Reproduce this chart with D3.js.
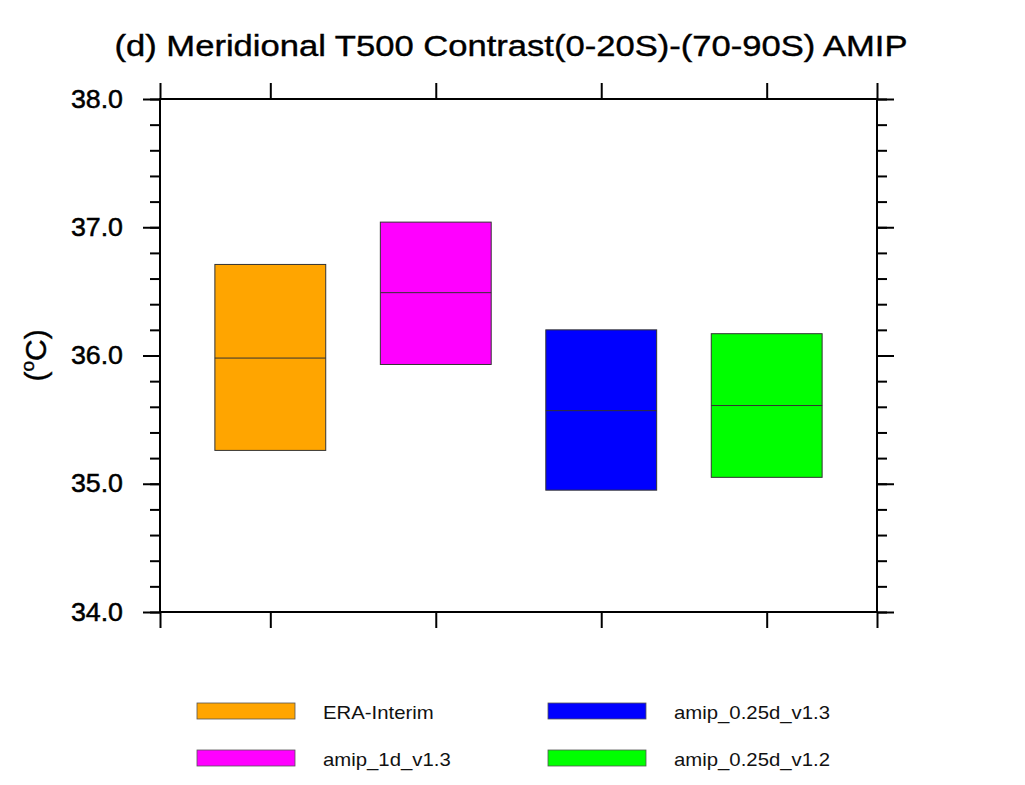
<!DOCTYPE html>
<html>
<head>
<meta charset="utf-8">
<script src="https://cdn.jsdelivr.net/npm/d3@7"></script>
<style>
  body { margin: 0; background: #fff; }
  svg { font-family: "Liberation Sans", Arial, Helvetica, sans-serif; }
</style>
</head>
<body>
<div id="chart"></div>
<script>
// data
var runs    = ["ERA-Interim", "amip_1d_v1.3", "amip_0.25d_v1.3", "amip_0.25d_v1.2"];
var colors  = ["#ffa500", "#ff00ff", "#0000ff", "#00ff00"];
var boxTop  = [36.71, 37.04, 36.20, 36.17];
var boxMid  = [35.98, 36.49, 35.57, 35.61];
var boxBot  = [35.26, 35.93, 34.95, 35.05];
var yMajor  = [34, 35, 36, 37, 38];

var width = 1025, height = 785;
var pLeft = 160, pRight = 877, pTop = 99, pBottom = 612;

var svg = d3.select("#chart").append("svg")
    .attr("width", width)
    .attr("height", height);

// scales
var x = d3.scaleLinear()
    .domain([1/3, 4 + 2/3])
    .range([pLeft, pRight]);

var y = d3.scaleLinear()
    .domain([34, 38])
    .range([pBottom, pTop]);

var boxW = 0.67;
var xTicks = [x.domain()[0], 1, 2, 3, 4, x.domain()[1]];
var yMinor = d3.range(34, 38.001, 0.2);

// text in the reference is a bit wider than Arial, stretch it
function stretch(sel, k) {
    sel.each(function () {
        var w = this.getComputedTextLength();
        d3.select(this).attr("textLength", w * k).attr("lengthAdjust", "spacingAndGlyphs");
    });
}

// boxes
var g = svg.append("g");
g.selectAll("rect.box")
    .data(runs)
    .enter()
    .append("rect")
    .attr("class", "box")
    .attr("x", function (d, i) { return x(i + 1 - boxW / 2) })
    .attr("width", function () { return x(boxW) - x(0) })
    .attr("y", function (d, i) { return y(boxTop[i]) })
    .attr("height", function (d, i) { return y(boxBot[i]) - y(boxTop[i]) })
    .attr("fill", function (d, i) { return colors[i] })
    .attr("stroke", "#333")
    .attr("stroke-width", 1);

g.selectAll("line.mid")
    .data(runs)
    .enter()
    .append("line")
    .attr("class", "mid")
    .attr("x1", function (d, i) { return x(i + 1 - boxW / 2) })
    .attr("x2", function (d, i) { return x(i + 1 + boxW / 2) })
    .attr("y1", function (d, i) { return y(boxMid[i]) })
    .attr("y2", function (d, i) { return y(boxMid[i]) })
    .attr("stroke", "#333")
    .attr("stroke-width", 1);

// axes: major and minor ticks pointing outward, like NCL
function styleAxis(sel) {
    sel.select(".domain").remove();
    sel.selectAll("line").attr("stroke", "#000").attr("stroke-width", 2);
}

svg.append("g")
    .attr("transform", "translate(" + pLeft + ",0)")
    .call(d3.axisLeft(y).tickValues(yMinor).tickSize(10).tickFormat(""))
    .call(styleAxis);
svg.append("g")
    .attr("transform", "translate(" + pLeft + ",0)")
    .call(d3.axisLeft(y).tickValues(yMajor).tickSize(17).tickPadding(20).tickFormat(d3.format(".1f")))
    .call(styleAxis)
    .selectAll("text")
    .attr("font-size", 25)
    .attr("fill", "#000")
    .attr("stroke", "#000")
    .attr("stroke-width", 0.5)
    .call(stretch, 1.07);

svg.append("g")
    .attr("transform", "translate(" + pRight + ",0)")
    .call(d3.axisRight(y).tickValues(yMinor).tickSize(10).tickFormat(""))
    .call(styleAxis);
svg.append("g")
    .attr("transform", "translate(" + pRight + ",0)")
    .call(d3.axisRight(y).tickValues(yMajor).tickSize(17).tickFormat(""))
    .call(styleAxis);

svg.append("g")
    .attr("transform", "translate(0," + pBottom + ")")
    .call(d3.axisBottom(x).tickValues(xTicks).tickSize(16).tickFormat(""))
    .call(styleAxis);
svg.append("g")
    .attr("transform", "translate(0," + pTop + ")")
    .call(d3.axisTop(x).tickValues(xTicks).tickSize(16).tickFormat(""))
    .call(styleAxis);

// frame
svg.append("rect")
    .attr("x", pLeft)
    .attr("y", pTop)
    .attr("width", pRight - pLeft)
    .attr("height", pBottom - pTop)
    .attr("fill", "none")
    .attr("stroke", "#000")
    .attr("stroke-width", 2);

// title
svg.append("text")
    .attr("x", 511)
    .attr("y", 56)
    .attr("text-anchor", "middle")
    .attr("font-size", 30)
    .attr("fill", "#000")
    .attr("stroke", "#000")
    .attr("stroke-width", 0.4)
    .attr("textLength", 793)
    .attr("lengthAdjust", "spacingAndGlyphs")
    .text("(d) Meridional T500 Contrast(0-20S)-(70-90S) AMIP");

// y label with superscript o
var yl = svg.append("text")
    .attr("transform", "translate(46," + ((pTop + pBottom) / 2) + ") rotate(-90)")
    .attr("text-anchor", "middle")
    .attr("font-size", 30)
    .attr("fill", "#000")
    .attr("stroke", "#000")
    .attr("stroke-width", 0.4);
yl.append("tspan").text("(");
yl.append("tspan").attr("font-size", 19).attr("dy", -12).text("o");
yl.append("tspan").attr("dy", 12).text("C)");

// legend
var legX = [197, 548], legY = [703, 750];
var lg = svg.selectAll("g.leg")
    .data(runs)
    .enter()
    .append("g")
    .attr("class", "leg")
    .attr("transform", function (d, i) {
        return "translate(" + legX[Math.floor(i / 2)] + "," + legY[i % 2] + ")";
    });
lg.append("rect")
    .attr("width", 98)
    .attr("height", 16)
    .attr("fill", function (d, i) { return colors[i] })
    .attr("stroke", "#555")
    .attr("stroke-width", 0.8);
lg.append("text")
    .attr("x", 126)
    .attr("y", 16)
    .attr("font-size", 19)
    .attr("fill", "#111")
    .text(function (d) { return d; })
    .call(stretch, 1.07);
</script>
</body>
</html>
